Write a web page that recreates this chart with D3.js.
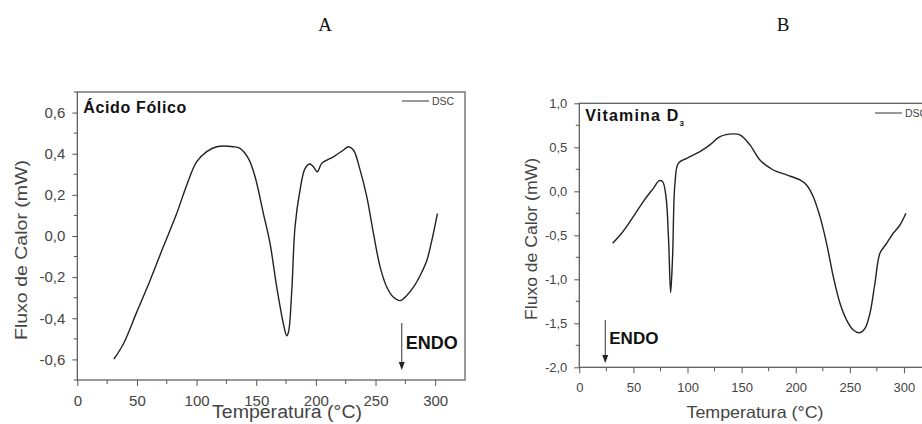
<!DOCTYPE html>
<html>
<head>
<meta charset="utf-8">
<script src="https://cdn.jsdelivr.net/npm/d3@7"></script>
<style>
  body { margin: 0; background: #fff; }
  svg text { font-family: "Liberation Sans", Arial, sans-serif; }
</style>
</head>
<body>
<svg id="chart" width="922" height="424"></svg>
<script>
// Ácido Fólico (A)
var tempA = [30.7, 38.6, 49.8, 61, 72, 83.3, 91.7, 100, 108.5, 116.9, 130.8, 136.4, 143.4, 149, 156, 161.6, 167.2, 172.8, 175.5, 177, 179.8, 182.5, 186.7, 190.9, 195, 197.9, 201.2, 204.9, 214.7, 223.1, 227.3, 231.5, 237.1, 242.7, 248.3, 253.9, 259.5, 265.1, 270.6, 276.2, 281.8, 287.4, 293, 297.2, 301.9];
var fluxA = [-0.598, -0.525, -0.37, -0.216, -0.054, 0.109, 0.247, 0.36, 0.41, 0.434, 0.434, 0.426, 0.377, 0.288, 0.109, -0.037, -0.249, -0.428, -0.485, -0.468, -0.265, 0.044, 0.223, 0.328, 0.35, 0.337, 0.312, 0.353, 0.385, 0.418, 0.434, 0.418, 0.32, 0.19, 0.011, -0.151, -0.249, -0.298, -0.314, -0.289, -0.249, -0.192, -0.119, -0.021, 0.109];

// Vitamina D3 (B)
var tempB = [30.8, 39.1, 49.9, 59.1, 68.4, 73.9, 77, 80.1, 82.5, 84.4, 86.2, 88.4, 91.5, 99.2, 111.5, 120.7, 130, 142.3, 148.5, 157.7, 166.9, 179.3, 191.6, 203.9, 210, 216.2, 222.4, 228.5, 234.7, 240.9, 247, 253.2, 259.3, 264, 268.6, 273.2, 277.8, 284, 290.1, 296.3, 301.8];
var fluxB = [-0.591, -0.477, -0.288, -0.117, 0.034, 0.121, 0.11, -0.061, -0.553, -1.152, -0.742, 0.091, 0.318, 0.375, 0.451, 0.527, 0.621, 0.652, 0.64, 0.527, 0.356, 0.242, 0.186, 0.129, 0.072, -0.061, -0.288, -0.591, -0.97, -1.273, -1.462, -1.576, -1.606, -1.557, -1.386, -1.045, -0.705, -0.591, -0.477, -0.383, -0.25];

var xTicks = [0, 50, 100, 150, 200, 250, 300];
var yTicksA = [-0.6, -0.4, -0.2, 0.0, 0.2, 0.4, 0.6];
var yTicksB = [-2.0, -1.5, -1.0, -0.5, 0.0, 0.5, 1.0];

var svg = d3.select("#chart");
var textColor = "#444";
var axisColor = "#555";

function fmt(v) {
  return d3.format(".1f")(v).replace(".", ",").replace("\u2212", "-");
}

function drawPanel(cfg) {
  var g = svg.append("g");
  var x = d3.scaleLinear().domain(cfg.xDomain).range([cfg.left, cfg.right]);
  var y = d3.scaleLinear().domain(cfg.yDomain).range([cfg.bottom, cfg.top]);

  // frame
  g.append("rect")
    .attr("x", cfg.left).attr("y", cfg.top)
    .attr("width", cfg.right - cfg.left).attr("height", cfg.bottom - cfg.top)
    .attr("fill", "none").attr("stroke", axisColor).attr("stroke-width", 1.2);

  // minor ticks
  var xMinor = d3.range(25, cfg.xDomain[1], 50);
  g.selectAll(".xminor").data(xMinor).enter().append("line")
    .attr("x1", d => x(d)).attr("x2", d => x(d))
    .attr("y1", cfg.bottom).attr("y2", cfg.bottom + 4)
    .attr("stroke", axisColor);
  var yMinor = d3.range(cfg.yDomain[0], cfg.yDomain[1] + 1e-9, cfg.yMinor)
    .filter(v => !cfg.yTicks.some(t => Math.abs(t - v) < 1e-6));
  g.selectAll(".yminor").data(yMinor).enter().append("line")
    .attr("x1", cfg.left - 3.5).attr("x2", cfg.left)
    .attr("y1", d => y(d)).attr("y2", d => y(d))
    .attr("stroke", axisColor);

  // axes
  var xAxis = d3.axisBottom(x).tickValues(xTicks).tickSize(6).tickPadding(9).tickFormat(d3.format("d"));
  var xg = g.append("g").attr("transform", `translate(0,${cfg.bottom})`).call(xAxis);
  var yAxis = d3.axisLeft(y).tickValues(cfg.yTicks).tickSize(5).tickPadding(7).tickFormat(fmt);
  var yg = g.append("g").attr("transform", `translate(${cfg.left},0)`).call(yAxis);
  [xg, yg].forEach(function(a) {
    a.select(".domain").remove();
    a.selectAll("line").attr("stroke", axisColor);
    a.selectAll("text").attr("fill", textColor).style("font-size", cfg.tickFont + "px");
  });

  // curve
  var pts = cfg.temp.map((t, i) => [t, cfg.flux[i]]);
  var line = d3.line().x(d => x(d[0])).y(d => y(d[1])).curve(d3.curveCatmullRom.alpha(0.5));
  g.append("path").datum(pts)
    .attr("d", line)
    .attr("fill", "none").attr("stroke", "#222").attr("stroke-width", 1.4);

  // title
  var title = g.append("text")
    .attr("x", cfg.left + 6).attr("y", cfg.titleY)
    .attr("fill", "#111").style("font-size", cfg.titleFont + "px").style("font-weight", "bold");
  var main = title.append("tspan").text(cfg.title);
  if (cfg.titleLen) main.attr("textLength", cfg.titleLen).attr("lengthAdjust", "spacing");
  if (cfg.sub) {
    title.append("tspan").attr("dy", 5).style("font-size", "8px").text(cfg.sub);
  }

  // legend
  g.append("line")
    .attr("x1", cfg.legX).attr("x2", cfg.legX + 27)
    .attr("y1", cfg.legY).attr("y2", cfg.legY)
    .attr("stroke", "#333").attr("stroke-width", 1);
  g.append("text").attr("x", cfg.legX + 30).attr("y", cfg.legY + 4)
    .attr("fill", textColor).style("font-size", "10.5px").text("DSC");

  // ENDO arrow
  var ax = x(cfg.endoT);
  g.append("line")
    .attr("x1", ax).attr("x2", ax)
    .attr("y1", cfg.endoY0).attr("y2", cfg.endoY1 - 6)
    .attr("stroke", "#333").attr("stroke-width", 1);
  g.append("path")
    .attr("d", `M${ax - 3},${cfg.endoY1 - 8}L${ax + 3},${cfg.endoY1 - 8}L${ax},${cfg.endoY1}Z`)
    .attr("fill", "#222");
  g.append("text").attr("x", ax + 4).attr("y", cfg.endoTextY)
    .attr("fill", "#111").style("font-size", cfg.endoFont + "px").style("font-weight", "bold")
    .text("ENDO");

  // axis labels
  g.append("text")
    .attr("transform", `translate(${cfg.yLabX},${cfg.yLabY}) rotate(-90)`)
    .attr("text-anchor", "middle").attr("fill", textColor).style("font-size", cfg.yLabFont + "px")
    .attr("textLength", cfg.yLabLen).attr("lengthAdjust", "spacingAndGlyphs")
    .text("Fluxo de Calor (mW)");
  g.append("text")
    .attr("x", cfg.xLabX).attr("y", cfg.xLabY)
    .attr("text-anchor", "middle").attr("fill", textColor).style("font-size", cfg.xLabFont + "px")
    .attr("textLength", cfg.xLabLen).attr("lengthAdjust", "spacingAndGlyphs")
    .text("Temperatura (°C)");

  // panel letter
  svg.append("text")
    .attr("x", cfg.letterX).attr("y", 31)
    .attr("text-anchor", "middle").attr("fill", "#111")
    .style("font-family", "'Liberation Serif', serif").style("font-size", "19px")
    .text(cfg.letter);
}

drawPanel({
  temp: tempA, flux: fluxA, yTicks: yTicksA, yMinor: 0.1,
  xDomain: [0, 325], yDomain: [-0.7, 0.7],
  left: 77.3, right: 465, top: 92, bottom: 380,
  tickFont: 15,
  title: "Ácido Fólico", titleY: 112.5, titleFont: 16, titleLen: 103,
  legX: 402, legY: 101,
  endoT: 272, endoY0: 323, endoY1: 370, endoTextY: 349, endoFont: 18,
  yLabX: 27, yLabY: 250, yLabFont: 17, yLabLen: 180,
  xLabX: 287, xLabY: 418, xLabFont: 18, xLabLen: 150,
  letter: "A", letterX: 325
});

drawPanel({
  temp: tempB, flux: fluxB, yTicks: yTicksB, yMinor: 0.25,
  xDomain: [0, 325], yDomain: [-2.0, 1.0],
  left: 579.3, right: 931, top: 103.3, bottom: 367.3,
  tickFont: 13,
  title: "Vitamina D", sub: "3", titleY: 121, titleFont: 16, titleLen: 93,
  legX: 875, legY: 113,
  endoT: 24, endoY0: 320, endoY1: 363, endoTextY: 344, endoFont: 17,
  yLabX: 537, yLabY: 239, yLabFont: 16, yLabLen: 162,
  xLabX: 755, xLabY: 418, xLabFont: 16.5, xLabLen: 137,
  letter: "B", letterX: 783
});
</script>
</body>
</html>
